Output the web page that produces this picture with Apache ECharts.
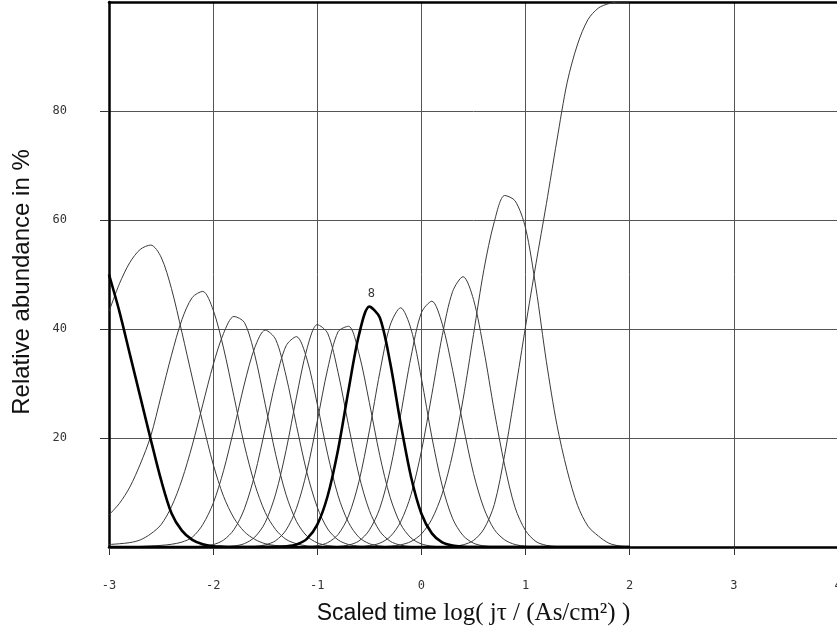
<!DOCTYPE html>
<html>
<head>
<meta charset="utf-8">
<script src="https://cdn.jsdelivr.net/npm/echarts@6/dist/echarts.min.js"></script>
<style>html,body{margin:0;padding:0;background:#fff;overflow:hidden}#c{width:837px;height:634px}</style>
</head>
<body>
<div id="c"></div>
<script>
// x grid (log scaled time), step 0.1 from -3.0 to 2.0
var xs = [-3.0,-2.9,-2.8,-2.7,-2.6,-2.5,-2.4,-2.3,-2.2,-2.1,
          -2.0,-1.9,-1.8,-1.7,-1.6,-1.5,-1.4,-1.3,-1.2,-1.1,
          -1.0,-0.9,-0.8,-0.7,-0.6,-0.5,-0.4,-0.3,-0.2,-0.1,
           0.0, 0.1, 0.2, 0.3, 0.4, 0.5, 0.6, 0.7, 0.8, 0.9,
           1.0, 1.1, 1.2, 1.3, 1.4, 1.5, 1.6, 1.7, 1.8, 1.9, 2.0];

var c0 = [50,43.2,35.4,27.6,19.8,12.3,6.2,3.0,1.3,0.5, 0.15,0.05,0,0,0,0,0,0,0,0, 0,0,0,0,0,0,0,0,0,0, 0,0,0,0,0,0,0,0,0,0, 0,0,0,0,0,0,0,0,0,0,0];
var c1 = [43.2,48.3,52.2,54.6,55.4,53.2,47.4,39.4,31.0,22.8, 15.2,9.3,5.3,2.8,1.4,0.6,0.27,0.1,0.03,0, 0,0,0,0,0,0,0,0,0,0, 0,0,0,0,0,0,0,0,0,0, 0,0,0,0,0,0,0,0,0,0,0];
var c2 = [5.9,8.0,11.0,15.2,20.3,27.7,35.2,41.7,45.8,46.9, 43.5,36.5,27.6,18.7,11.5,6.35,3.2,1.4,0.6,0.2, 0.06,0,0,0,0,0,0,0,0,0, 0,0,0,0,0,0,0,0,0,0, 0,0,0,0,0,0,0,0,0,0,0];
var c3 = [0.45,0.6,0.8,1.3,2.4,4.1,7.4,12.3,18.7,26.1, 33.4,39.2,42.3,41.2,35.2,26.2,17.0,9.6,4.7,2.0, 0.77,0.25,0.08,0,0,0,0,0,0,0, 0,0,0,0,0,0,0,0,0,0, 0,0,0,0,0,0,0,0,0,0,0];
var c4 = [0.05,0.05,0.05,0.1,0.2,0.3,0.5,0.9,1.8,4.1, 8.0,14.0,21.7,29.9,36.6,39.8,38.1,31.4,22.3,13.7, 7.3,3.3,1.3,0.45,0.15,0.05,0,0,0,0, 0,0,0,0,0,0,0,0,0,0, 0,0,0,0,0,0,0,0,0,0,0];
var c5 = [0,0,0,0,0,0,0,0,0.05,0.15, 0.43,1.27,3.2,7.0,13.3,21.7,30.4,36.9,38.6,34.5, 26.2,17.0,9.4,4.5,1.78,0.61,0.18,0.05,0,0, 0,0,0,0,0,0,0,0,0,0, 0,0,0,0,0,0,0,0,0,0,0];
var c6 = [0,0,0,0,0,0,0,0,0,0, 0,0.05,0.18,0.62,1.82,4.5,9.7,17.7,27.5,36.3, 40.8,39.2,32.0,22.3,13.2,6.7,2.9,1.06,0.33,0.09, 0.02,0,0,0,0,0,0,0,0,0, 0,0,0,0,0,0,0,0,0,0,0];
var c7 = [0,0,0,0,0,0,0,0,0,0, 0,0,0,0.03,0.1,0.38,1.16,3.1,7.1,13.9, 23.1,32.7,39.5,40.5,35.5,26.5,16.8,9.1,4.2,1.66, 0.56,0.16,0.04,0,0,0,0,0,0,0, 0,0,0,0,0,0,0,0,0,0,0];
var c8 = [0,0,0,0,0,0,0,0,0,0, 0,0,0,0,0,0,0.03,0.13,0.47,1.5, 4.1,9.4,17.9,28.8,38.9,44.1,42.1,33.8,22.7,12.9, 6.1,2.5,0.83,0.25,0.06,0,0,0,0,0, 0,0,0,0,0,0,0,0,0,0,0];
var c9 = [0,0,0,0,0,0,0,0,0,0, 0,0,0,0,0,0,0,0,0,0.07, 0.25,0.8,2.3,5.7,12.0,21.3,32.0,40.7,43.9,40.0, 30.9,20.2,11.2,5.2,2.1,0.7,0.2,0.05,0,0, 0,0,0,0,0,0,0,0,0,0,0];
var c10 = [0,0,0,0,0,0,0,0,0,0, 0,0,0,0,0,0,0,0,0,0, 0,0,0.1,0.35,1.1,3.1,7.1,14.2,24.2,34.9, 43.0,45.1,40.9,32.4,22.4,13.5,7.1,3.2,1.3,0.45, 0.13,0.03,0,0,0,0,0,0,0,0,0];
var c11 = [0,0,0,0,0,0,0,0,0,0, 0,0,0,0,0,0,0,0,0,0, 0,0,0,0,0.08,0.25,0.7,1.9,4.6,9.6, 17.6,28.0,38.8,46.9,49.6,45.4,36.1,24.9,14.9,7.2, 3.0,1.0,0.3,0.08,0,0,0,0,0,0,0];
var c12 = [0,0,0,0,0,0,0,0,0,0, 0,0,0,0,0,0,0,0,0,0, 0,0,0,0,0,0,0.05,0.15,0.4,1.0, 2.4,5.1,9.8,17.1,27.1,39.0,50.9,59.7,64.5,63.5, 58.5,47.5,34.0,22.5,14.0,7.6,3.8,2.0,0.7,0.2,0.05];
var c13 = [0,0,0,0,0,0,0,0,0,0, 0,0,0,0,0,0,0,0,0,0, 0,0,0,0,0,0,0,0,0,0, 0,0,0.03,0.1,0.4,1.2,3.3,7.8,17.0,28.5, 40.5,52.0,63.0,74.5,85.3,92.3,96.8,98.9,99.7,100,100];

var curves = [c0,c1,c2,c3,c4,c5,c6,c7,c8,c9,c10,c11,c12,c13];
var thick = [0, 8];
var labelCurve = 8, labelText = '8', labelPeak = [-0.48, 44.3];

var xTicks = {min: -3, max: 4, interval: 1};
var yTicks = {min: 0, max: 100, interval: 20};
var yLabelValues = [20, 40, 60, 80];

var chart = echarts.init(document.getElementById('c'), null, {renderer: 'canvas'});

function zip(vals) {
  var out = [];
  for (var i = 0; i < xs.length; i++) out.push([xs[i], vals[i]]);
  return out;
}

var series = curves.map(function (vals, k) {
  var isThick = thick.indexOf(k) >= 0;
  var s = {
    type: 'line',
    data: zip(vals),
    smooth: 0.3,
    showSymbol: false,
    symbol: 'none',
    z: isThick ? 5 : 3,
    lineStyle: {color: isThick ? '#000' : '#3a3a3a', width: isThick ? 2.6 : 1},
    silent: true
  };
  if (k === labelCurve) {
    s.markPoint = {
      symbol: 'circle', symbolSize: 0, silent: true,
      data: [{coord: labelPeak}],
      label: {show: true, position: 'top', distance: 6, formatter: labelText,
              fontFamily: 'DejaVu Sans Mono', fontSize: 12, color: '#333'}
    };
  }
  return s;
});

var tickFont = {fontFamily: 'DejaVu Sans Mono', fontSize: 12, color: '#333'};

chart.setOption({
  animation: false,
  backgroundColor: '#fff',
  grid: {left: 109, width: 729, top: 2, bottom: 87, containLabel: false, outerBoundsMode: 'none'},
  xAxis: [{
    type: 'value', min: xTicks.min, max: xTicks.max, interval: xTicks.interval,
    position: 'bottom',
    name: '{s|Scaled time }{t|log( jτ / (As/cm²) )}',
    nameLocation: 'middle', nameGap: 54,
    nameTextStyle: {
      rich: {
        s: {fontFamily: 'Liberation Sans', fontSize: 23, color: '#111'},
        t: {fontFamily: 'Liberation Serif', fontSize: 25, color: '#111'}
      }
    },
    axisLine: {show: true, onZero: false, lineStyle: {color: '#000', width: 2.5}},
    axisTick: {show: true, inside: false, length: 8, lineStyle: {color: '#333', width: 1}},
    axisLabel: Object.assign({margin: 33}, tickFont),
    splitLine: {show: true, lineStyle: {color: '#555', width: 1}}
  }, {
    type: 'value', min: xTicks.min, max: xTicks.max, position: 'top',
    axisLine: {show: true, onZero: false, lineStyle: {color: '#000', width: 2.5}},
    axisTick: {show: false}, axisLabel: {show: false}, splitLine: {show: false}
  }],
  yAxis: {
    type: 'value', min: yTicks.min, max: yTicks.max, interval: yTicks.interval,
    name: 'Relative abundance in %',
    nameLocation: 'middle', nameGap: 75,
    nameTextStyle: {fontFamily: 'Liberation Sans', fontSize: 24, color: '#111', padding: [0, 15, 0, 0]},
    axisLine: {show: true, onZero: false, lineStyle: {color: '#000', width: 2.5}},
    axisTick: {show: true, inside: false, length: 9, customValues: yLabelValues, lineStyle: {color: '#333', width: 1}},
    axisLabel: Object.assign({margin: 42, customValues: yLabelValues}, tickFont),
    splitLine: {show: true, lineStyle: {color: '#555', width: 1}}
  },
  series: series
});
</script>
</body>
</html>
